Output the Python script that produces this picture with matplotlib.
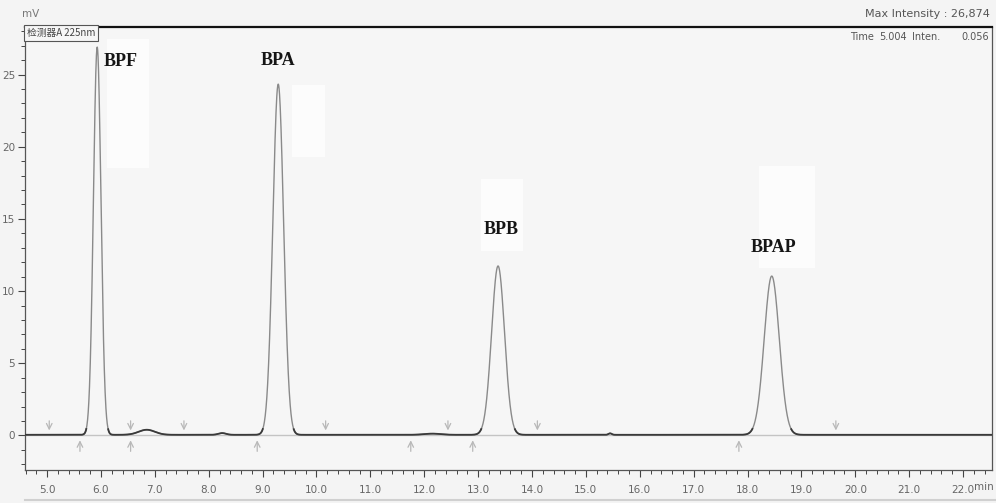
import numpy as np
import matplotlib.pyplot as plt
from matplotlib.patches import Rectangle

plt.rcParams['font.family'] = ['DejaVu Sans', 'Noto Sans CJK SC']

# 峰表：保留时间 (min)、峰高 (mV)、峰宽 sigma (min)
peak_names = ['BPF', 'BPA', 'BPB', 'BPAP']
peak_rt = [5.93, 9.29, 13.37, 18.45]
peak_height = [26.87, 24.3, 11.7, 11.0]
peak_sigma = [0.07, 0.10, 0.12, 0.14]

# 基线上的小杂峰
minor_rt = [6.85, 8.25, 12.15, 15.45]
minor_height = [0.35, 0.12, 0.08, 0.10]
minor_sigma = [0.15, 0.07, 0.15, 0.03]

# 积分起止标记
mark_down = [5.04, 6.55, 7.54, 10.17, 12.44, 14.10, 19.64]
mark_up = [5.61, 6.55, 8.90, 11.75, 12.90, 17.84]

x_min, x_max = 4.59, 22.54
y_min, y_max = -2.4, 28.3

t = np.linspace(x_min, x_max, 6000)
signal = np.full_like(t, 0.04)
for rt, h, s in zip(peak_rt + minor_rt, peak_height + minor_height,
                    peak_sigma + minor_sigma):
    signal += h * np.exp(-0.5 * ((t - rt) / s) ** 2)

fig = plt.figure(figsize=(9.96, 5.03), dpi=100, facecolor='#f4f4f4')
ax = fig.add_axes([0.0251, 0.0656, 0.971, 0.8807], facecolor='#f6f6f6')

# 标签背后的白色底块
for x0, y0, w, h in [(6.12, 18.5, 0.78, 9.0), (9.55, 19.3, 0.6, 5.0),
                     (13.05, 12.8, 0.78, 5.0), (18.22, 11.6, 1.03, 7.1)]:
    ax.add_patch(Rectangle((x0, y0), w, h, facecolor='#fcfcfc',
                           edgecolor='none', zorder=0.5))

ax.axhline(0, color='#c4c4c4', lw=1.0, zorder=1)
ax.plot(t, signal, color='#8a8a8a', lw=1.0, zorder=2)
base = np.where(signal < 0.45, signal, np.nan)
ax.plot(t, base, color='#3a3a3a', lw=1.3, zorder=3)

for xm in mark_down:
    ax.annotate('', xy=(xm, 0.15), xytext=(xm, 1.2),
                arrowprops=dict(arrowstyle='->', color='#b8b8b8', lw=0.9))
for xm in mark_up:
    ax.annotate('', xy=(xm, -0.15), xytext=(xm, -1.3),
                arrowprops=dict(arrowstyle='->', color='#b8b8b8', lw=0.9))

label_pos = [(6.37, 25.9), (9.29, 26.0), (13.43, 14.3), (18.48, 13.05)]
for name, (lx, ly) in zip(peak_names, label_pos):
    ax.text(lx, ly, name, family='Liberation Serif', fontweight='bold',
            fontsize=13, ha='center', va='center', color='#151515', zorder=5)

ax.set_xlim(x_min, x_max)
ax.set_ylim(y_min, y_max)
ax.set_xticks(np.arange(5, 23))
ax.set_xticklabels(['%.1f' % v for v in np.arange(5, 23)])
ax.set_xticks(np.arange(4.6, 22.6, 0.2), minor=True)
ax.set_yticks(np.arange(0, 30, 5))
ax.set_yticks(np.arange(-2, 29, 1), minor=True)
ax.tick_params(axis='both', which='major', length=5, width=0.8,
               colors='#444444', labelcolor='#666666', labelsize=7.5, pad=2)
ax.tick_params(axis='both', which='minor', length=3, width=0.7,
               colors='#444444')
ax.tick_params(axis='x', pad=6)

for side in ['left', 'right', 'bottom']:
    ax.spines[side].set_color('#555555')
    ax.spines[side].set_linewidth(0.9)
ax.spines['top'].set_color('#111111')
ax.spines['top'].set_linewidth(1.6)

ax.text(0.002, 0.997, '检测器A 225nm', transform=ax.transAxes,
        fontsize=7, color='#444444', ha='left', va='top',
        family=['Noto Sans CJK SC', 'DejaVu Sans'],
        bbox=dict(boxstyle='square,pad=0.3', facecolor='#f6f6f6',
                  edgecolor='#555555', lw=0.8))

ax.text(0.853, 0.978, 'Time', transform=ax.transAxes, fontsize=7,
        color='#555555', ha='left', va='center')
ax.text(0.883, 0.978, '5.004', transform=ax.transAxes, fontsize=7,
        color='#555555', ha='left', va='center')
ax.text(0.917, 0.978, 'Inten.', transform=ax.transAxes, fontsize=7,
        color='#555555', ha='left', va='center')
ax.text(0.997, 0.978, '0.056', transform=ax.transAxes, fontsize=7,
        color='#555555', ha='right', va='center')

fig.text(0.022, 0.972, 'mV', fontsize=7.5, color='#777777', ha='left', va='center')
fig.text(0.994, 0.972, 'Max Intensity : 26,874', fontsize=8,
         color='#555555', ha='right', va='center')
fig.text(0.988, 0.032, 'min', fontsize=7.5, color='#666666',
         ha='center', va='center')
fig.add_artist(plt.Line2D([0.025, 1.0], [0.006, 0.006], color='#d0d0d0',
                          lw=1.5, transform=fig.transFigure))

fig.savefig('out.png', dpi=100, facecolor=fig.get_facecolor())
